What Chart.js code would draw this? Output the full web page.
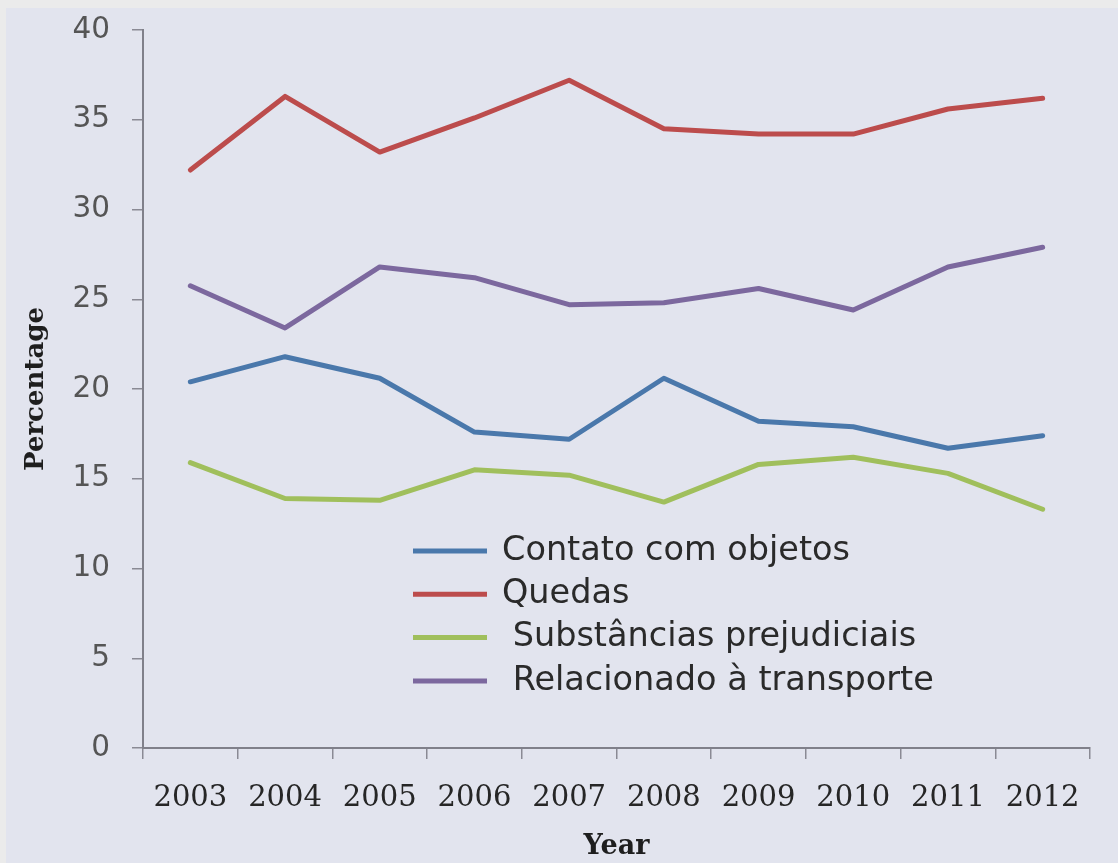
<!DOCTYPE html>
<html>
<head>
<meta charset="utf-8">
<script src="https://cdn.jsdelivr.net/npm/chart.js@4.4.1/dist/chart.umd.min.js"></script>
<style>
  html, body { margin: 0; padding: 0; background: #ebebeb; width: 1118px; height: 863px; overflow: hidden; }
  #panel { position: absolute; left: 6px; top: 8px; width: 1112px; height: 855px; background: #e2e4ee; }
  #c { position: absolute; left: 0; top: 0; }
</style>
</head>
<body>
<div id="panel"></div>
<canvas id="c" width="1118" height="863"></canvas>
<script>
const years = ['2003', '2004', '2005', '2006', '2007', '2008', '2009', '2010', '2011', '2012'];
const contato = [20.4, 21.8, 20.6, 17.6, 17.2, 20.6, 18.2, 17.9, 16.7, 17.4];
const quedas = [32.2, 36.3, 33.2, 35.1, 37.2, 34.5, 34.2, 34.2, 35.6, 36.2];
const substancias = [15.9, 13.9, 13.8, 15.5, 15.2, 13.7, 15.8, 16.2, 15.3, 13.3];
const transporte = [25.75, 23.4, 26.8, 26.2, 24.7, 24.8, 25.6, 24.4, 26.8, 27.9];
const seriesLabels = ['Contato com objetos', 'Quedas', ' Substâncias prejudiciais', ' Relacionado à transporte'];
const seriesColors = ['#4a78ab', '#bc4c4c', '#a0bf5c', '#7c689e'];
const yTicks = [0, 5, 10, 15, 20, 25, 30, 35, 40];

const legendPlugin = {
  id: 'insideLegend',
  afterDraw(chart) {
    const ctx = chart.ctx;
    ctx.save();
    ctx.font = '33.5px "DejaVu Sans"';
    ctx.textBaseline = 'middle';
    ctx.textAlign = 'left';
    const x0 = 413, y0 = 551, gap = 43.3;
    chart.data.datasets.forEach((ds, i) => {
      const y = y0 + i * gap;
      ctx.strokeStyle = ds.borderColor;
      ctx.lineWidth = 5;
      ctx.beginPath();
      ctx.moveTo(x0, y);
      ctx.lineTo(x0 + 74, y);
      ctx.stroke();
      ctx.fillStyle = '#2a2a2a';
      ctx.fillText(ds.label, x0 + 89, y);
    });
    ctx.restore();
  }
};

const datasets = [contato, quedas, substancias, transporte].map((d, i) => ({
  label: seriesLabels[i],
  data: d,
  borderColor: seriesColors[i],
  backgroundColor: seriesColors[i],
  borderWidth: 5,
  pointRadius: 0,
  tension: 0,
  borderJoinStyle: 'round',
  borderCapStyle: 'round',
  fill: false
}));

new Chart(document.getElementById('c'), {
  type: 'line',
  data: { labels: years, datasets },
  plugins: [legendPlugin],
  options: {
    responsive: false,
    animation: false,
    layout: { padding: { top: 30, right: 28, left: 0, bottom: 0 } },
    plugins: { legend: { display: false }, tooltip: { enabled: false } },
    scales: {
      x: {
        type: 'category',
        offset: true,
        afterFit(s) { s.height = 115; },
        grid: { display: true, drawOnChartArea: false, drawTicks: true, tickLength: 11, offset: true, color: '#8a8a94', lineWidth: 1.5 },
        border: { display: true, color: '#80808a', width: 2 },
        ticks: { color: '#262626', font: { family: '"DejaVu Serif"', size: 29 }, padding: 22, maxRotation: 0, autoSkip: false },
        title: { display: true, text: 'Year', color: '#1e1e1e', font: { family: '"DejaVu Serif"', size: 27, weight: 'bold' }, padding: { top: 0, bottom: 0 } }
      },
      y: {
        min: 0, max: 40,
        afterFit(s) { s.width = 143; s.paddingTop = 0; s.paddingBottom = 0; },
        afterBuildTicks(s) { s.ticks = yTicks.map(v => ({ value: v })); },
        grid: { display: true, drawOnChartArea: false, drawTicks: true, tickLength: 11, color: '#8a8a94', lineWidth: 1.5 },
        border: { display: true, color: '#80808a', width: 2 },
        ticks: { color: '#555555', font: { family: '"DejaVu Sans"', size: 29.5 }, padding: 22 },
        title: { display: true, text: 'Percentage', color: '#1e1e1e', font: { family: '"DejaVu Serif"', size: 26, weight: 'bold' }, padding: { top: 21, bottom: 0 } }
      }
    }
  }
});
</script>
</body>
</html>
